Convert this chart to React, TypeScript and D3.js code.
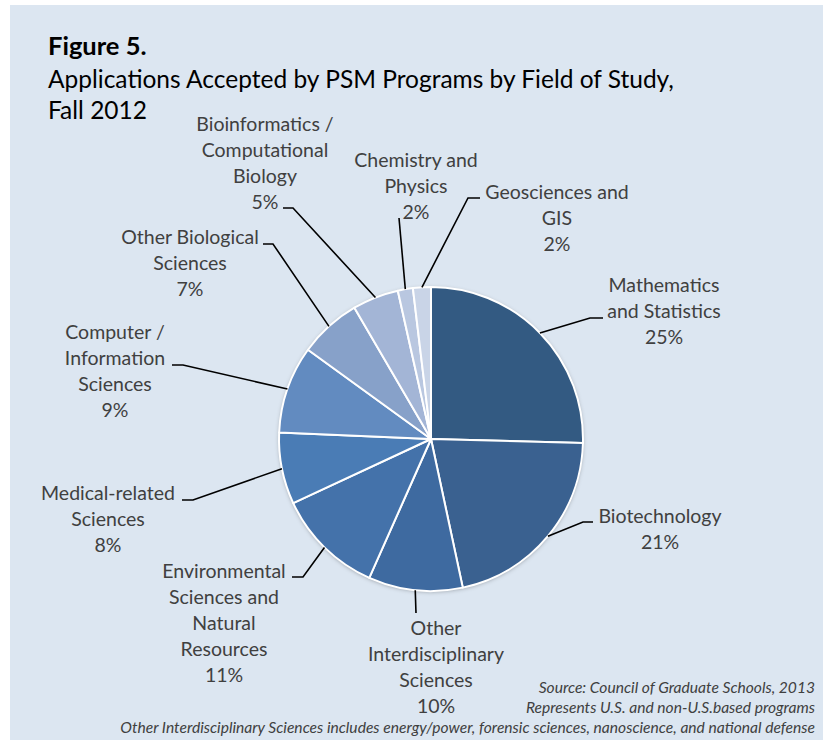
import * as d3 from 'd3'

// Fall 2012 accepted applications by field, read clockwise from 12 o'clock
const CATEGORIES = [
  'Mathematics and Statistics',
  'Biotechnology',
  'Other Interdisciplinary Sciences',
  'Environmental Sciences and Natural Resources',
  'Medical-related Sciences',
  'Computer / Information Sciences',
  'Other Biological Sciences',
  'Bioinformatics / Computational Biology',
  'Chemistry and Physics',
  'Geosciences and GIS',
]
const VALUES = [25.4, 21.2, 10.0, 11.4, 7.6, 9.3, 6.6, 4.9, 1.6, 1.9]
const LABEL_LINES = [
  ['Mathematics', 'and Statistics'],
  ['Biotechnology'],
  ['Other', 'Interdisciplinary', 'Sciences'],
  ['Environmental', 'Sciences and', 'Natural', 'Resources'],
  ['Medical-related', 'Sciences'],
  ['Computer /', 'Information', 'Sciences'],
  ['Other Biological', 'Sciences'],
  ['Bioinformatics /', 'Computational', 'Biology'],
  ['Chemistry and', 'Physics'],
  ['Geosciences and', 'GIS'],
]
const COLORS = [
  '#335a82', '#3a6190', '#3e6aa0', '#4472aa', '#4a7cb5',
  '#628bc0', '#87a1c9', '#a3b5d6', '#b9c7e0', '#c9d4e7',
]
const FOOTNOTES = [
  'Source: Council of Graduate Schools, 2013',
  'Represents U.S. and non-U.S.based programs',
  'Other Interdisciplinary Sciences includes energy/power, forensic sciences, nanoscience, and national defense',
]

// label layout: text centre x, first baseline y, leader elbow, end of short horizontal tail
const LABEL_LAYOUT = [
  { cx: 664, y: 292, elbow: [590, 318], tail: 603 },
  { cx: 660, y: 523, elbow: [583, 522], tail: 593 },
  { cx: 436, y: 635, elbow: [416, 613], tail: null },
  { cx: 224, y: 578, elbow: [303, 577], tail: 292 },
  { cx: 108, y: 500, elbow: [193, 500], tail: 182 },
  { cx: 115, y: 339, elbow: [183, 365], tail: 172 },
  { cx: 190, y: 244, elbow: [273, 244], tail: 263 },
  { cx: 265, y: 131, elbow: [293, 208], tail: 283 },
  { cx: 416, y: 167, elbow: [399, 218], tail: null },
  { cx: 557, y: 199, elbow: [468, 198], tail: 480 },
]

const W = 823
const H = 740
const CX = 431
const CY = 439
const R = 152
const LINE_H = 26
const FONT = 'Lato, "Open Sans", sans-serif'

export default function App() {
  const data = CATEGORIES.map((name, i) => ({ name, value: VALUES[i], i }))
  const pie = d3.pie<(typeof data)[number]>().value((d) => d.value).sort(null)
  const arcs = pie(data)
  const arc = d3.arc<d3.PieArcDatum<(typeof data)[number]>>().innerRadius(0).outerRadius(R)
  const total = d3.sum(VALUES)

  return (
    <svg
      width={W}
      height={H}
      style={{ position: 'absolute', left: 0, top: 0, fontFamily: FONT }}
    >
      <defs>
        <filter id="pieShadow" x="-20%" y="-20%" width="140%" height="140%">
          <feDropShadow dx="0" dy="1" stdDeviation="2" floodColor="#000" floodOpacity="0.3" />
        </filter>
      </defs>
      <rect x={0} y={0} width={W} height={H} fill="#fff" />
      <rect x={10} y={5} width={W - 10} height={H - 5} fill="#dce6f1" />

      <text x={48} y={55} fontSize={25.5} fontWeight={700} fill="#000">Figure 5.</text>
      <text x={48} y={88} fontSize={24.5} fill="#000">
        Applications Accepted by PSM Programs by Field of Study,
      </text>
      <text x={48} y={119} fontSize={24.5} fill="#000">Fall 2012</text>

      <g transform={`translate(${CX},${CY})`}>
        <circle r={R} fill="#fff" filter="url(#pieShadow)" />
        {arcs.map((a) => (
          <path
            key={a.data.name}
            d={arc(a) ?? ''}
            fill={COLORS[a.index]}
            stroke="#fff"
            strokeWidth={2}
            strokeLinejoin="round"
          />
        ))}
      </g>

      {arcs.map((a) => {
        const lay = LABEL_LAYOUT[a.index]
        const mid = (a.startAngle + a.endAngle) / 2
        const px = CX + R * Math.sin(mid)
        const py = CY - R * Math.cos(mid)
        const pts: [number, number][] = [[px, py], [lay.elbow[0], lay.elbow[1]]]
        if (lay.tail != null) pts.push([lay.tail, lay.elbow[1]])
        const pct = `${Math.round((a.data.value / total) * 100)}%`
        const lines = [...LABEL_LINES[a.index], pct]
        return (
          <g key={a.data.name}>
            <path
              d={d3.line()(pts) ?? ''}
              fill="none"
              stroke="#000"
              strokeWidth={1.6}
            />
            <text textAnchor="middle" fontSize={19.5} fill="#404040">
              {lines.map((t, li) => (
                <tspan key={li} x={lay.cx} y={lay.y + li * LINE_H}>{t}</tspan>
              ))}
            </text>
          </g>
        )
      })}

      <text textAnchor="end" fontSize={15.6} fontStyle="italic" fill="#404040">
        {FOOTNOTES.map((t, i) => (
          <tspan key={i} x={815} y={693 + i * 20}>{t}</tspan>
        ))}
      </text>
    </svg>
  )
}
